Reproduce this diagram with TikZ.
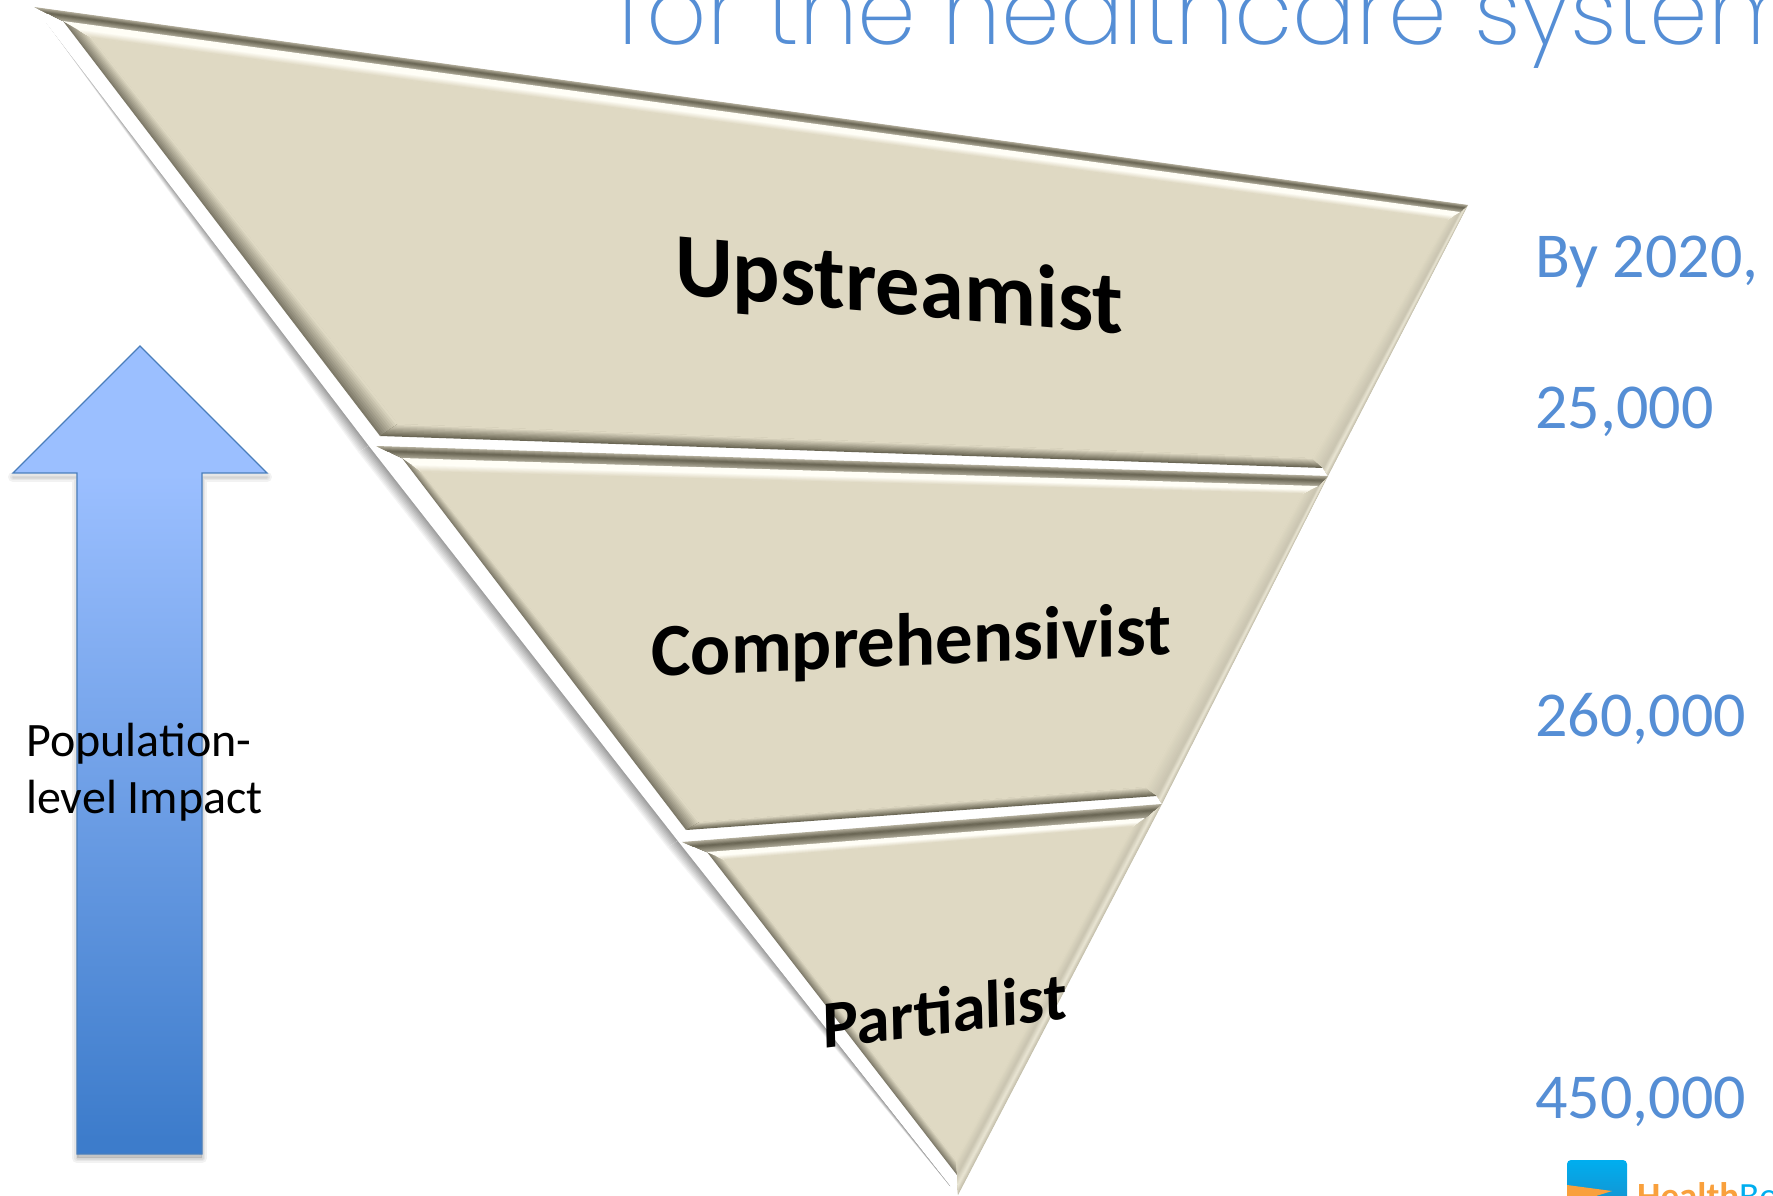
\documentclass[tikz,border=0pt]{standalone}
\usepackage{fontspec}
\setmainfont{Carlito}
\newfontfamily\titlefont{Poppins ExtraLight}
\usetikzlibrary{calc}
\definecolor{tan}{HTML}{DFD9C3}
\definecolor{bevdark}{HTML}{6B6755}
\definecolor{bevtop}{HTML}{A9A594}
\definecolor{bevmid}{HTML}{B5B09E}
\definecolor{leftdark}{HTML}{7E7A69}
\definecolor{rightout}{HTML}{C4BFAB}
\definecolor{rightlight}{HTML}{E9E5D3}
\definecolor{rightin}{HTML}{CBC6B2}
\definecolor{cream}{HTML}{FFFEF6}
\definecolor{txtblue}{HTML}{558ED5}
\definecolor{arrowtop}{HTML}{9BBFFF}
\definecolor{arrowlow}{HTML}{3D7CCB}
\definecolor{arrowline}{HTML}{4A7EBB}
\definecolor{shadegray}{HTML}{A0A0A0}
\definecolor{logoblue}{HTML}{00AEEF}
\definecolor{logolow}{HTML}{1A8CC8}
\definecolor{logoorange}{HTML}{F9A03C}
\pgfdeclareverticalshading{arrowgrad}{100bp}{color(0bp)=(arrowlow); color(25.9bp)=(arrowlow); color(67.1bp)=(arrowtop); color(100bp)=(arrowtop)}
\newcommand\ramp[6]{%
  \foreach \i in {0,...,9}{%
    \pgfmathsetmacro\tt{\i/10}%
    \pgfmathtruncatemacro\pc{100-\i*100/9}%
    \fill[fill=#5!\pc!#6] ($(#1)!\tt!(#3)$) -- ($(#2)!\tt!(#4)$) -- (#4) -- (#3) -- cycle;
  }}
\newcommand\bevelseg[1]{%
  % left facet
  \fill[white] (#1A) -- (#1D) -- (#1d) -- (#1a) -- cycle;
  \ramp{#1a}{#1d}{#1p}{#1s}{leftdark}{tan}
  % bottom facet
  \fill[white] (#1D) -- (#1C) -- (#1c) -- (#1d) -- cycle;
  \ramp{#1d}{#1c}{#1s}{#1r}{bevdark}{tan}
  % right facet
  \coordinate (#1m1) at ($(#1B)!.45!(#1b)$);
  \coordinate (#1m2) at ($(#1C)!.45!(#1c)$);
  \ramp{#1B}{#1C}{#1m1}{#1m2}{rightout}{rightlight}
  \ramp{#1m1}{#1m2}{#1b}{#1c}{rightlight}{rightin}
  \ramp{#1b}{#1c}{#1q}{#1r}{rightin}{tan}
  % top facet
  \coordinate (#1m3) at ($(#1A)!.45!(#1a)$);
  \coordinate (#1m4) at ($(#1B)!.45!(#1b)$);
  \coordinate (#1m5) at ($(#1a)!.45!(#1p)$);
  \coordinate (#1m6) at ($(#1b)!.45!(#1q)$);
  \ramp{#1A}{#1B}{#1m3}{#1m4}{bevmid}{bevdark}
  \ramp{#1m3}{#1m4}{#1a}{#1b}{bevdark}{bevtop}
  \fill[cream] (#1a) -- (#1b) -- (#1m6) -- (#1m5) -- cycle;
  \ramp{#1m5}{#1m6}{#1p}{#1q}{cream}{tan}
  % face
  \fill[tan] (#1p) -- (#1q) -- (#1r) -- (#1s) -- cycle;
}
\tikzset{
  bluetext/.style={text=txtblue,anchor=base west,inner sep=0pt,font=\fontsize{64}{70}\selectfont},
  layerlabel/.style={text=black,inner sep=0pt,font=\bfseries\fontsize{#1}{#1}\selectfont},
  arrowshape/.style={draw=arrowline,line width=1.3pt,shading=arrowgrad,shading angle=0},
}
\begin{document}
\begin{tikzpicture}[x=1pt,y=-1pt]
\useasboundingbox (0,0) rectangle (1773,1196);
\clip (0,0) rectangle (1773,1196);
% outline points
\coordinate (e0) at (34,7);
\coordinate (e1) at (46,22);
\coordinate (e2) at (369,446);
\coordinate (e3) at (678,841);
\coordinate (e4) at (950,1186);
\coordinate (e5) at (958,1195);
\coordinate (e6) at (1468,205);
\coordinate (o1) at (46,22);
\coordinate (o2) at (357,453);
\coordinate (o3) at (666,848);
\coordinate (o4) at (950,1186);
% shadow of the funnel
\ramp{o1}{o2}{e1}{e2}{white}{shadegray}
\ramp{o2}{o3}{e2}{e3}{white}{shadegray}
\ramp{o3}{o4}{e3}{e4}{white}{shadegray}
\fill[white] (e0) -- (e6) -- (e5) -- (e3) -- (e2) -- cycle;
% segment 1
\coordinate (sA) at (34,7);  \coordinate (sB) at (1468,205);
\coordinate (sC) at (1328,476); \coordinate (sD) at (376,446);
\coordinate (sa) at (63,21); \coordinate (sb) at (1460,212);
\coordinate (sc) at (1323,468); \coordinate (sd) at (380,436);
\coordinate (sp) at (92,38); \coordinate (sq) at (1447,220);
\coordinate (sr) at (1312,458); \coordinate (ss) at (398,424);
\bevelseg{s}
% segment 2
\coordinate (tA) at (376,446); \coordinate (tB) at (1328,476);
\coordinate (tC) at (1162,804); \coordinate (tD) at (684,843);
\coordinate (ta) at (402,458); \coordinate (tb) at (1318,486);
\coordinate (tc) at (1157,796); \coordinate (td) at (686,830);
\coordinate (tp) at (422,472); \coordinate (tq) at (1302,494);
\coordinate (tr) at (1145,787); \coordinate (ts) at (700,822);
\bevelseg{t}
% segment 3
\coordinate (uA) at (682,842); \coordinate (uB) at (1162,804);
\coordinate (uC) at (958,1195); \coordinate (uD) at (958,1195);
\coordinate (ua) at (707,852); \coordinate (ub) at (1145,818);
\coordinate (uc) at (957,1175); \coordinate (ud) at (957,1175);
\coordinate (up) at (725,860); \coordinate (uq) at (1132,827);
\coordinate (ur) at (956,1160); \coordinate (us) at (956,1160);
\bevelseg{u}
% arrow shadow
\foreach \w in {10,6,3}{
  \fill[black,opacity=.05,draw=black,line width=\w pt,line join=round]
    (13,477) -- (77,477) -- (77,1158) -- (202,1158) -- (202,477) -- (267,477) -- cycle;
}
% arrow
\path[arrowshape] (140,346) -- (267,473) -- (202,473) -- (202,1154) -- (77,1154) -- (77,473) -- (13,473) -- cycle;
% title
\node[text=txtblue,anchor=base west,inner sep=0pt,font=\titlefont\fontsize{94}{100}\selectfont] (title) at (616,45) {for the healthcare system};
% right figures
\node[bluetext] (by) at (1535,277) {By 2020,};
\node[bluetext] (n1) at (1535,428) {25,000};
\node[bluetext] (n2) at (1535,736) {260,000};
\node[bluetext] (n3) at (1535,1118) {450,000};
% layer labels
\node[layerlabel=89,rotate=-5,xslant=-0.09] (lblup) at (899,290) {Upstreamist};
\node[layerlabel=75,rotate=2.5,xslant=0.04] (lblco) at (911,645) {Comprehensivist};
\node[layerlabel=67,rotate=7,xslant=0.1] (lblpa) at (945,1010) {Partialist};
% arrow label
\node[anchor=base west,inner sep=0pt,font=\fontsize{48}{57}\selectfont,align=left] (pop) at (26,813) {Population-\\[0pt]level Impact};
% logo
\shade[top color=logoblue,bottom color=logolow,rounded corners=4pt] (1567,1160) rectangle (1627,1215);
\fill[logoorange] (1567,1185) -- (1612,1191) -- (1596,1196) -- (1567,1196) -- cycle;
\node[anchor=base west,inner sep=0pt,font=\fontsize{37}{40}\selectfont] (logo) at (1637,1208) {\textcolor{logoorange}{\bfseries Health}\textcolor{logoblue}{Be}};
\end{tikzpicture}
\end{document}
